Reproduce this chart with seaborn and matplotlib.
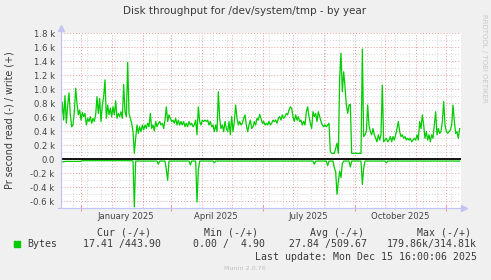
import matplotlib
matplotlib.use("Agg")
import matplotlib.pyplot as plt
from matplotlib.patches import Rectangle
from matplotlib.lines import Line2D
import pandas as pd
import seaborn as sns

title = "Disk throughput for /dev/system/tmp - by year"
ylabel = "Pr second read (-) / write (+)"
series_start = "2024-11-11"
series_step = "32h"
x_start = "2024-11-11"
x_end = "2025-12-16"

write_values = [
    540, 815, 560, 910, 515, 775, 950, 635, 465, 490, 680, 1015, 800, 635, 705, 560, 670, 610, 655, 490,
    585, 540, 610, 515, 585, 540, 635, 895, 655, 870, 540, 775, 895, 1135, 585, 775, 635, 730, 610, 750,
    635, 835, 585, 655, 610, 680, 585, 1070, 680, 610, 1385, 655, 585, 515, 395, 85, 300, 490, 370, 465,
    395, 490, 420, 490, 440, 515, 465, 655, 440, 490, 405, 540, 465, 515, 540, 490, 515, 440, 560, 750,
    540, 635, 585, 540, 560, 515, 585, 490, 560, 490, 540, 490, 540, 465, 515, 465, 540, 490, 515, 465,
    490, 560, 350, 750, 540, 490, 560, 540, 560, 540, 560, 490, 540, 465, 490, 395, 490, 395, 965, 585,
    440, 490, 395, 540, 440, 395, 540, 350, 610, 395, 540, 775, 585, 490, 540, 490, 515, 585, 635, 490,
    395, 490, 560, 440, 465, 540, 490, 585, 560, 640, 585, 515, 540, 490, 515, 490, 540, 490, 515, 560,
    540,
    560, 515, 585, 610, 560, 635, 585, 610, 655, 635, 705, 750, 730, 610, 540, 635, 560, 610, 540, 560,
    490, 540, 490, 680, 750, 610, 515, 440, 680, 610, 655, 540, 680, 610, 540, 490, 465, 490, 465, 490,
    515, 110, 85, 85, 85, 155, 230, 85, 1155, 1515, 965, 1250, 1040, 775, 655, 775, 785, 85, 85, 85,
    85, 85, 85, 85, 85, 1575, 325, 350, 395, 775, 490, 395, 350, 440, 350, 300, 250, 350, 275, 350,
    1060, 250, 275, 300, 250, 275, 325, 250, 325, 275, 350, 440, 540, 395, 325, 350, 300, 325, 275, 300,
    275, 300, 250, 275, 300, 275, 350, 275, 540, 440, 635, 490, 300, 395, 275, 350, 250, 350, 300, 490,
    680, 350, 440, 370, 395, 540, 825, 490, 395, 370, 395, 420, 490, 775, 540, 370, 395, 300, 440,
]

read_values = [
    -35, -35, -35, -30, -30, -30, -30, -30, -30, -30, -30, -30, -30, -30, -30, -30, -20, -20, -20, -20,
    -20, -20, -20, -20, -20, -20, -20, -20, -20, -20, -20, -20, -20, -20, -20, -20, -20, -20, -20, -20,
    -20, -20, -20, -20, -20, -20, -20, -20, -20, -20, -20, -20, -20, -20, -25, -680, -25, -25, -25, -25,
    -25, -25, -25, -25, -25, -25, -25, -25, -25, -25, -25, -25, -25, -70, -25, -25, -25, -25, -25, -150,
    -300, -25, -25, -25, -25, -25, -25, -25, -25, -25, -25, -25, -25, -25, -25, -25, -25, -80, -25, -25,
    -25, -25, -610, -150, -25, -25, -25, -25, -25, -25, -25, -25, -25, -25, -25, -50, -25, -25, -25, -25,
    -25, -25, -25, -25, -25, -25, -25, -25, -25, -25, -25, -25, -25, -25, -25, -25, -25, -25, -25, -25,
    -25, -25, -25, -25, -25, -25, -25, -25, -25, -25, -25, -25, -25, -25, -25, -25, -25, -25, -25, -25,
    -25,
    -25, -25, -25, -25, -25, -25, -25, -25, -25, -25, -25, -25, -25, -25, -25, -25, -25, -25, -25, -25,
    -25, -25, -25, -25, -25, -25, -25, -25, -25, -70, -25, -25, -25, -25, -25, -25, -25, -25, -25, -90,
    -25, -25, -25, -25, -120, -180, -500, -320, -170, -260, -60, -25, -25, -25, -25, -25, -110, -25, -25, -25,
    -25, -25, -25, -25, -25, -360, -130, -25, -25, -25, -25, -25, -25, -25, -25, -25, -25, -25, -25, -25,
    -25, -25, -25, -50, -25, -25, -25, -25, -25, -25, -25, -25, -25, -25, -25, -25, -25, -25, -25, -25,
    -25, -25, -25, -25, -25, -25, -25, -25, -25, -25, -25, -25, -25, -25, -25, -25, -25, -25, -25, -25,
    -25, -25, -25, -25, -25, -25, -25, -25, -25, -25, -25, -25, -25, -25, -25, -25, -25, -25, -25,
]

ytick_values = [-600, -400, -200, 0, 200, 400, 600, 800, 1000, 1200, 1400, 1600, 1800]
ytick_labels = ["-0.6 k", "-0.4 k", "-0.2 k", "0.0", "0.2 k", "0.4 k", "0.6 k", "0.8 k",
                "1.0 k", "1.2 k", "1.4 k", "1.6 k", "1.8 k"]
yminor_values = [-700, -500, -300, -100, 100, 300, 500, 700, 900, 1100, 1300, 1500, 1700]
quarter_ticks = ["2024-12-01", "2025-03-01", "2025-06-01", "2025-09-01", "2025-12-01"]
month_grid = ["2024-12-01", "2025-01-01", "2025-02-01", "2025-03-01", "2025-04-01", "2025-05-01",
              "2025-06-01", "2025-07-01", "2025-08-01", "2025-09-01", "2025-10-01", "2025-11-01",
              "2025-12-01"]
minor_grid_start = "2024-11-23"
minor_grid_step = "14D"
label_dates = ["2025-01-15", "2025-04-15", "2025-07-16", "2025-10-16"]
label_texts = ["January 2025", "April 2025", "July 2025", "October 2025"]
legend_headers = ["Cur (-/+)", "Min (-/+)", "Avg (-/+)", "Max (-/+)"]
legend_name = "Bytes"
legend_values = ["17.41 /443.90", "0.00 /  4.90", "27.84 /509.67", "179.86k/314.81k"]
last_update = "Last update: Mon Dec 15 16:00:06 2025"
munin_version = "Munin 2.0.76"
side_text = "RRDTOOL / TOBI OETIKER"

GREEN = "#00CC00"
BG = "#F0F0F0"
AXIS = "#C4C4F4"
MGRID = "#E89C9C"
GRID = "#D4D4D4"
TXT = "#3A3A3A"

W, H = 491, 280
fig = plt.figure(figsize=(W / 100, H / 100), dpi=100, facecolor=BG)


def fx(px):
    return px / W


def fy(py):
    return 1 - py / H


left, right, top, bottom = 61, 461, 33.3, 208.3
ax = fig.add_axes([fx(left), fy(bottom), (right - left) / W, (bottom - top) / H])
ax.set_facecolor("white")

wdf = pd.DataFrame({"time": pd.date_range(series_start, periods=len(write_values), freq=series_step),
                    "value": write_values})
rdf = pd.DataFrame({"time": pd.date_range(series_start, periods=len(read_values), freq=series_step),
                    "value": read_values})

x0, x1 = pd.Timestamp(x_start), pd.Timestamp(x_end)
ax.set_xlim(x0, x1)
ax.set_ylim(-700, 1800)

# grid
for v in yminor_values:
    ax.axhline(v, color=GRID, lw=0.7, ls=(0, (1, 2)), zorder=0.5)
for v in ytick_values:
    ax.axhline(v, color=MGRID, lw=0.7, ls=(0, (1, 2)), zorder=0.6)
for d in pd.date_range(minor_grid_start, x_end, freq=minor_grid_step):
    ax.axvline(d, color=GRID, lw=0.7, ls=(0, (1, 2)), zorder=0.5)
for d in month_grid:
    ax.axvline(pd.Timestamp(d), color=MGRID, lw=0.7, ls=(0, (1, 2)), zorder=0.6)

sns.lineplot(data=rdf, x="time", y="value", ax=ax, color=GREEN, lw=0.9, estimator=None, zorder=3)
sns.lineplot(data=wdf, x="time", y="value", ax=ax, color=GREEN, lw=0.9, estimator=None, zorder=3)
ax.axhline(0, color="black", lw=1.3, zorder=2.5)

ax.set_xlabel("")
ax.set_ylabel("")

ax.set_yticks(ytick_values)
ax.set_yticklabels(ytick_labels)
ax.tick_params(axis="y", length=0, pad=4.5, labelsize=6.1, labelcolor="#444444")

ax.set_xticks([pd.Timestamp(d) for d in quarter_ticks])
ax.set_xticklabels([""] * len(quarter_ticks))
ax.tick_params(axis="x", which="major", direction="inout", length=5, color=MGRID, width=0.8)
ax.set_xticks([pd.Timestamp(d) for d in label_dates], minor=True)
ax.set_xticklabels(label_texts, minor=True)
ax.tick_params(axis="x", which="minor", length=0, pad=2.5, labelsize=6.1, labelcolor="#444444")

for s in ["top", "right", "left", "bottom"]:
    ax.spines[s].set_visible(False)

# axes with arrows
fig.add_artist(Line2D([fx(left), fx(left)], [fy(bottom), fy(27)], color=AXIS, lw=0.9))
fig.add_artist(Line2D([fx(58), fx(465)], [fy(bottom), fy(bottom)], color=AXIS, lw=0.9))
fig.add_artist(Line2D([fx(left)], [fy(28)], marker="^", ms=4, color=AXIS, mec=AXIS))
fig.add_artist(Line2D([fx(464)], [fy(bottom)], marker=">", ms=4, color=AXIS, mec=AXIS))

# texts
fig.text(fx(245), fy(11.5), title, ha="center", va="center", fontsize=7.5, color=TXT)
fig.text(fx(10), fy(120), ylabel, ha="center", va="center", rotation=90, fontsize=6.9, color=TXT)
fig.text(fx(484), fy(14), side_text, ha="center", va="top", rotation=-90, fontsize=5.0, color="#C8C8C8")

mono = "DejaVu Sans Mono"
hx = [97, 204, 310, 417]
for x, t in zip(hx, legend_headers):
    fig.text(fx(x), fy(232.7), t, ha="left", va="center", fontsize=7.1, family=mono, color=TXT)
fig.add_artist(Rectangle((fx(14), fy(247)), 6 / W, 6 / H, color=GREEN, transform=fig.transFigure))
fig.text(fx(27), fy(244), legend_name, ha="left", va="center", fontsize=7.1, family=mono, color=TXT)
vx = [83, 193, 289, 387]
for x, t in zip(vx, legend_values):
    fig.text(fx(x), fy(244), t, ha="left", va="center", fontsize=7.1, family=mono, color=TXT)
fig.text(fx(477), fy(256.7), last_update, ha="right", va="center", fontsize=7.1, family=mono, color=TXT)
fig.text(fx(245), fy(268), munin_version, ha="center", va="center", fontsize=4.6, color="#C0C0C0")

fig.savefig("out.png", dpi=100, facecolor=BG)
